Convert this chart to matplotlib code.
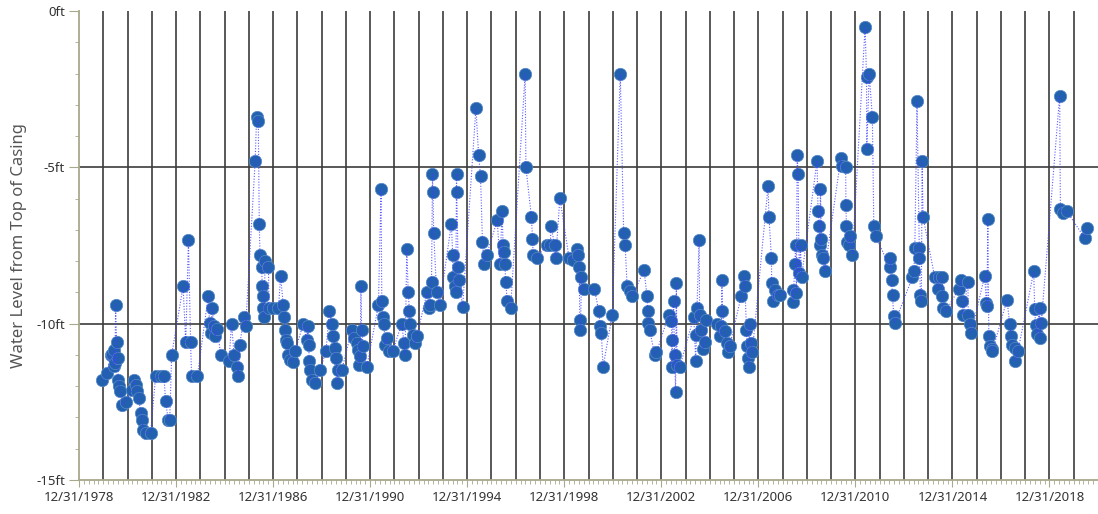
import matplotlib
matplotlib.use("Agg")
import matplotlib.pyplot as plt
from matplotlib.ticker import FixedLocator, MultipleLocator

# decimal year (1979.0 == 12/31/1978) and water level (ft)
years = [
 1979.96,1980.17,1980.30,1980.36,1980.44,1980.45,1980.48,1980.51,1980.55,1980.60,1980.62,1980.66,1980.70,1980.78,1980.92,
 1981.20,1981.27,1981.34,1981.40,1981.47,1981.54,1981.61,1981.63,1981.75,1981.95,
 1982.16,1982.37,1982.50,1982.57,1982.68,1982.74,1982.82,
 1983.29,1983.40,1983.51,1983.60,1983.64,1983.88,
 1984.33,1984.38,1984.43,1984.49,1984.56,1984.60,1984.70,1984.84,
 1985.18,1985.29,1985.39,1985.52,1985.57,1985.62,1985.80,1985.87,
 1986.26,1986.32,1986.39,1986.43,1986.46,1986.53,1986.55,1986.58,1986.60,1986.63,1986.67,1986.81,1986.83,
 1987.01,1987.22,1987.31,1987.42,1987.46,1987.49,1987.53,1987.59,1987.63,1987.70,1987.81,1987.90,
 1988.25,1988.38,1988.45,1988.46,1988.50,1988.52,1988.59,1988.73,1988.93,
 1989.18,1989.32,1989.42,1989.46,1989.55,1989.59,1989.65,1989.69,1989.83,
 1990.24,1990.34,1990.45,1990.51,1990.56,1990.59,1990.62,1990.65,1990.72,1990.86,
 1991.34,1991.45,1991.48,1991.52,1991.57,1991.61,1991.68,1991.79,1991.93,
 1992.30,1992.40,1992.44,1992.51,1992.57,1992.62,1992.64,1992.78,1992.85,1992.92,
 1993.35,1993.43,1993.46,1993.53,1993.57,1993.59,1993.62,1993.74,1993.87,
 1994.35,1994.40,1994.42,1994.49,1994.53,1994.56,1994.57,1994.63,1994.67,1994.81,
 1995.36,1995.47,1995.55,1995.63,1995.69,1995.80,
 1996.24,1996.35,1996.44,1996.48,1996.51,1996.55,1996.59,1996.65,1996.79,
 1997.39,1997.42,1997.65,1997.69,1997.72,1997.86,
 1998.27,1998.43,1998.45,1998.61,1998.65,1998.82,
 1999.20,1999.37,1999.53,1999.57,1999.62,1999.64,1999.67,1999.71,1999.81,
 2000.24,2000.43,2000.49,2000.53,2000.60,2000.98,
 2001.31,2001.45,2001.51,2001.59,2001.70,2001.81,
 2002.29,2002.41,2002.45,2002.47,2002.52,2002.73,2002.80,
 2003.31,2003.42,2003.44,2003.46,2003.51,2003.55,2003.59,2003.62,2003.65,2003.76,
 2004.34,2004.42,2004.45,2004.47,2004.56,2004.58,2004.65,2004.72,2004.79,2004.86,
 2005.31,2005.43,2005.48,2005.50,2005.52,2005.61,2005.71,2005.75,2005.82,
 2006.30,2006.41,2006.45,2006.51,2006.52,2006.58,2006.62,2006.64,2006.71,2006.75,
 2007.40,2007.44,2007.54,2007.55,2007.61,2007.68,2007.82,2007.91,
 2008.43,2008.44,2008.50,2008.54,2008.57,2008.60,2008.64,2008.68,2008.74,2008.78,
 2009.42,2009.46,2009.50,2009.53,2009.56,2009.60,2009.61,2009.67,2009.74,
 2010.40,2010.43,2010.60,2010.61,2010.63,2010.66,2010.74,2010.77,2010.88,
 2011.40,2011.46,2011.47,2011.57,2011.70,2011.76,2011.83,
 2012.42,2012.44,2012.49,2012.53,2012.58,2012.62,
 2013.35,2013.41,2013.45,2013.54,2013.63,2013.64,2013.68,2013.72,2013.75,2013.79,
 2014.27,2014.40,2014.44,2014.58,2014.59,2014.61,2014.72,
 2015.26,2015.36,2015.41,2015.43,2015.64,2015.65,2015.71,2015.78,
 2016.33,2016.40,2016.42,2016.46,2016.50,2016.53,2016.64,2016.65,
 2017.25,2017.36,2017.43,2017.47,2017.56,2017.59,2017.70,
 2018.35,2018.39,2018.43,2018.48,2018.59,2018.60,2018.66,
 2019.42,2019.45,2019.55,2019.72,
 2020.45,2020.54,
]
levels = [
 -11.79,-11.58,-10.99,-10.96,-11.36,-10.85,-11.26,-9.40,-10.60,-11.10,-11.79,-12.00,-12.15,-12.60,-12.50,
 -12.11,-11.79,-11.95,-12.16,-12.38,-12.86,-13.07,-13.39,-13.50,-13.50,
 -11.68,-11.68,-11.68,-12.48,-13.09,-13.09,-10.99,
 -8.81,-10.60,-7.31,-10.60,-11.68,-11.68,
 -9.10,-9.98,-10.30,-9.50,-10.09,-10.41,-10.17,-10.99,
 -11.20,-10.00,-10.99,-11.39,-11.68,-10.69,-9.79,-10.09,
 -4.81,-3.39,-3.51,-6.80,-7.79,-8.19,-8.81,-9.10,-9.50,-9.80,-8.01,-8.19,-9.50,
 -9.50,-9.50,-8.49,-9.40,-9.80,-10.19,-10.51,-10.62,-10.99,-11.15,-11.24,-10.88,
 -10.00,-10.51,-10.09,-10.69,-11.20,-11.49,-11.79,-11.90,-11.49,
 -10.88,-9.58,-10.00,-10.41,-10.78,-11.10,-11.90,-11.49,-11.49,
 -10.19,-10.46,-10.62,-10.83,-11.31,-11.04,-8.81,-10.19,-10.72,-11.39,
 -9.41,-5.69,-9.29,-9.80,-10.00,-10.67,-10.46,-10.88,-10.88,
 -10.00,-10.62,-10.99,-7.60,-9.00,-9.61,-10.00,-10.35,-10.62,-10.41,
 -8.99,-9.50,-9.39,-8.68,-5.20,-5.80,-7.10,-8.99,-9.39,
 -6.80,-7.79,-8.51,-8.81,-8.99,-5.20,-5.80,-8.19,-8.59,-9.48,
 -3.10,-4.60,-5.29,-7.39,-8.08,-7.79,
 -6.70,-8.08,-6.41,-7.47,-7.71,-8.08,-8.68,-9.29,-9.50,
 -2.00,-5.00,-6.60,-7.29,-7.79,-7.90,
 -7.49,-7.49,-6.89,-7.49,-7.90,-5.98,
 -7.90,-7.95,-7.60,-7.79,-8.19,-9.87,-10.19,-8.51,-8.89,
 -8.89,-9.61,-10.09,-10.30,-11.39,-9.71,
 -2.00,-7.10,-7.49,-8.78,-8.97,-9.10,
 -8.29,-9.10,-9.61,-9.98,-10.21,-10.99,-10.92,
 -9.71,-9.93,-11.39,-10.51,-9.29,-10.99,-12.20,-8.70,-11.31,-11.39,
 -9.79,-11.20,-10.35,-9.50,-7.31,-9.71,-10.19,-10.81,-10.60,-9.89,
 -10.00,-10.39,-10.09,-8.59,-9.61,-10.25,-10.62,-10.92,-10.71,
 -9.10,-8.49,-8.81,-10.19,-10.71,-11.10,-11.39,-10.00,-10.62,-10.92,
 -5.61,-6.59,-7.90,-8.70,-9.29,-8.91,-9.07,-9.09,
 -8.91,-9.31,-8.09,-7.49,-9.02,-4.60,-5.21,-8.38,-7.49,-8.52,
 -4.79,-6.41,-6.89,-7.49,-5.68,-7.28,-7.79,-7.90,-8.30,
 -4.70,-4.97,-5.00,-6.19,-6.89,-7.40,-7.47,-7.19,-7.79,
 -0.51,-2.12,-4.40,-2.00,-3.40,-6.89,-7.19,
 -8.20,-7.90,-8.61,-9.09,-9.77,-9.98,
 -8.52,-8.30,-7.58,-2.89,-7.58,-7.90,-9.07,-9.29,-4.79,-6.59,
 -8.51,-8.89,-8.51,-8.51,-9.10,-9.50,-9.61,
 -8.89,-8.59,-9.29,-9.71,-8.68,-9.71,-10.00,-10.30,
 -8.46,-9.34,-9.45,-6.65,-10.38,-10.72,-10.81,-10.88,
 -9.23,-10.01,-10.41,-10.67,-10.78,-11.20,-10.88,
 -8.33,-9.53,-10.03,-10.32,-9.50,-10.46,-9.98,
 -2.71,-6.33,-6.46,-6.41,
 -7.26,-6.94,
]

x_label_years = [1978, 1982, 1986, 1990, 1994, 1998, 2002, 2006, 2010, 2014, 2018]
x_labels = ["12/31/%d" % y for y in x_label_years]
y_ticks = [0, -5, -10, -15]
y_labels = ["0ft", "-5ft", "-10ft", "-15ft"]
y_title = "Water Level from Top of Casing"

plt.rcParams['font.family'] = ['Noto Sans', 'DejaVu Sans']

fig = plt.figure(figsize=(10.98, 5.14), dpi=100)
ax = fig.add_axes([79/1098, 34/514, 1019/1098, 469/514])

x0, x1 = 1979.0, 2021.0
ax.set_xlim(x0, x1)
ax.set_ylim(-15, 0)

# yearly vertical grid lines
for yr in range(1980, 2021):
    ax.axvline(yr, color='#3c3c3c', lw=1.2, zorder=1)
for yv in (-5, -10):
    ax.axhline(yv, color='#3c3c3c', lw=1.2, zorder=1)

ax.scatter(years, levels, s=80, color='#2261ad', edgecolors='#5a8acb',
           linewidths=0.5, zorder=3)
ax.plot(years, levels, linestyle=(0, (1, 1.5)), color='#4040ff', lw=0.8,
        alpha=0.85, zorder=4)

ax.xaxis.set_major_locator(FixedLocator([y + 1 for y in x_label_years]))
ax.set_xticklabels(x_labels)
ax.xaxis.set_minor_locator(MultipleLocator(0.2))
ax.set_yticks(y_ticks)
ax.set_yticklabels(y_labels)
ax.yaxis.set_minor_locator(MultipleLocator(1))

ax.tick_params(axis='x', which='major', length=5, direction='out', color='#a8a88c',
               labelsize=9.5, labelcolor='#333333', pad=3)
ax.tick_params(axis='x', which='minor', length=3, direction='out', color='#a8a88c')
ax.tick_params(axis='y', which='major', length=7, direction='out', color='#a8a88c',
               labelsize=9.5, labelcolor='#333333', pad=3)
ax.tick_params(axis='y', which='minor', length=3, direction='out', color='#a8a88c')

for s in ('top', 'right'):
    ax.spines[s].set_visible(False)
for s in ('left', 'bottom'):
    ax.spines[s].set_color('#a8a88c')
    ax.spines[s].set_linewidth(1.3)

ax.set_ylabel(y_title, fontsize=12, color='#555555')
ax.yaxis.set_label_coords(-52/1019, 0.5)

fig.savefig("out.png", dpi=100)
